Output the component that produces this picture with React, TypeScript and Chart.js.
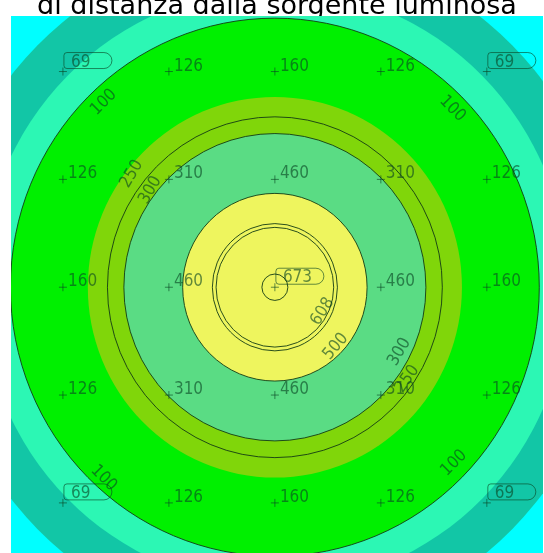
import React, { useEffect, useRef } from "react";
import { Chart, registerables } from "chart.js";

Chart.register(...registerables);

const TITLE = "di distanza dalla sorgente luminosa";

// calculation grid (m) and illuminance values (lux)
const gridX = [1, 3, 5, 7, 9];
const gridY = [1, 3, 5, 7, 9];
const gridValues = [
  [69, 126, 160, 126, 69],
  [126, 310, 460, 310, 126],
  [160, 460, 673, 460, 160],
  [126, 310, 460, 310, 126],
  [69, 126, 160, 126, 69],
];

// light source position (m)
const sourceX = 5;
const sourceY = 5;

// filled iso-bands: lower level (lux) and iso radius (m)
const bandLevels = [0, 60, 70, 100, 200, 300, 500];
const bandRadii = [Infinity, 6.34, 5.54, 4.99, 3.53, 2.85, 1.74];

// contour lines: level (lux) and radius (m)
const lineLevels = [100, 250, 300, 500, 600, 608];
const lineRadii = [4.99, 3.16, 2.85, 1.74, 1.18, 1.11];
const maxMarkerRadius = 0.245;

// contour label anchors (m) and rotation (deg)
const contourLabelText = ["100", "100", "100", "100", "250", "300", "300", "250", "608", "500"];
const contourLabelX = [1.77, 8.35, 1.77, 8.38, 2.3, 2.65, 7.35, 7.5, 5.9, 6.15];
const contourLabelY = [1.57, 1.69, 8.54, 8.26, 2.9, 3.2, 6.2, 6.7, 5.45, 6.1];
const contourLabelAngle = [-45, 45, 45, -45, -60, -60, -60, -55, -58, -50];

// palette (one per band)
const bandColors = ["#00FFFF", "#12C6A6", "#2CF7B4", "#00F000", "#80D60A", "#5ADC84", "#EEF55E"];
const LINE_COLOR = "rgba(20,60,20,0.9)";
const TEXT_COLOR = "rgba(10,70,35,0.62)";
const LABEL_FONT = '200 17px "DejaVu Sans Condensed", "DejaVu Sans", sans-serif';

const isoPlugin = {
  id: "isoPlugin",
  beforeDatasetsDraw(chart: any) {
    const { ctx, chartArea, scales } = chart;
    const xs = scales.x;
    const ys = scales.y;
    const cx = xs.getPixelForValue(sourceX);
    const cy = ys.getPixelForValue(sourceY);
    const rx = (r: number) => Math.abs(xs.getPixelForValue(sourceX + r) - cx);
    const ry = (r: number) => Math.abs(ys.getPixelForValue(sourceY + r) - cy);
    ctx.save();
    ctx.beginPath();
    ctx.rect(chartArea.left, chartArea.top, chartArea.right - chartArea.left, chartArea.bottom - chartArea.top);
    ctx.clip();
    bandLevels.forEach((lvl, i) => {
      const r = bandRadii[i];
      ctx.fillStyle = bandColors[i];
      ctx.beginPath();
      if (!isFinite(r)) {
        ctx.rect(chartArea.left, chartArea.top, chartArea.right - chartArea.left, chartArea.bottom - chartArea.top);
      } else {
        ctx.ellipse(cx, cy, rx(r), ry(r), 0, 0, Math.PI * 2);
      }
      ctx.fill();
    });
    ctx.strokeStyle = LINE_COLOR;
    ctx.lineWidth = 1;
    lineLevels.forEach((lvl, i) => {
      const r = lineRadii[i];
      ctx.beginPath();
      ctx.ellipse(cx, cy, rx(r), ry(r), 0, 0, Math.PI * 2);
      ctx.stroke();
    });
    ctx.beginPath();
    ctx.ellipse(cx, cy, rx(maxMarkerRadius), ry(maxMarkerRadius), 0, 0, Math.PI * 2);
    ctx.stroke();
    ctx.restore();
  },
  afterDatasetsDraw(chart: any) {
    const { ctx, scales } = chart;
    const xs = scales.x;
    const ys = scales.y;
    const all = gridValues.flat();
    const vmin = Math.min(...all);
    const vmax = Math.max(...all);
    ctx.save();
    ctx.font = LABEL_FONT;
    ctx.fillStyle = TEXT_COLOR;
    ctx.strokeStyle = TEXT_COLOR;
    ctx.lineWidth = 1;
    ctx.textBaseline = "alphabetic";
    ctx.textAlign = "left";
    gridY.forEach((gy, r) => {
      gridX.forEach((gx, c) => {
        const v = gridValues[r][c];
        const px = xs.getPixelForValue(gx);
        const py = ys.getPixelForValue(gy);
        const txt = String(v);
        if (v === vmin || v === vmax) {
          const w = ctx.measureText(txt).width;
          const bx = px + 1;
          const bh = 16;
          const by = py - 3 - bh;
          const bw = Math.max(w + 16, 48);
          ctx.beginPath();
          ctx.roundRect(bx, by, bw, bh, [3, 8, 8, 3]);
          ctx.stroke();
          ctx.fillText(txt, bx + 7, by + bh - 2);
        } else {
          ctx.fillText(txt, px + 5, py - 1);
        }
      });
    });
    contourLabelText.forEach((t, i) => {
      const px = xs.getPixelForValue(contourLabelX[i]);
      const py = ys.getPixelForValue(contourLabelY[i]);
      ctx.save();
      ctx.translate(px, py);
      ctx.rotate((contourLabelAngle[i] * Math.PI) / 180);
      ctx.textAlign = "center";
      ctx.textBaseline = "middle";
      ctx.fillText(t, 0, 0);
      ctx.restore();
    });
    ctx.restore();
  },
};

export default function App() {
  const ref = useRef<HTMLCanvasElement | null>(null);
  useEffect(() => {
    if (!ref.current) return;
    const points: { x: number; y: number }[] = [];
    gridY.forEach((gy) => gridX.forEach((gx) => points.push({ x: gx, y: gy })));
    const chart = new Chart(ref.current, {
      type: "scatter",
      data: {
        datasets: [
          {
            label: "punti di calcolo",
            data: points,
            pointStyle: "cross",
            pointRadius: 4,
            borderColor: TEXT_COLOR,
            borderWidth: 1,
            backgroundColor: TEXT_COLOR,
          },
        ],
      },
      options: {
        animation: false,
        responsive: false,
        maintainAspectRatio: false,
        layout: { autoPadding: false, padding: { left: 11, right: 1, top: 0, bottom: 0 } },
        scales: {
          x: { type: "linear", min: 0.02, max: 10.06, display: false },
          y: { type: "linear", min: -0.03, max: 10.3, reverse: true, display: false },
        },
        plugins: {
          legend: { display: false },
          tooltip: { enabled: false },
          title: {
            display: true,
            text: TITLE,
            color: "#000",
            font: { family: '"DejaVu Sans", sans-serif', size: 27, weight: "normal", lineHeight: 1.2 },
            padding: { top: 0, bottom: -7.4 },
          },
        },
      },
      plugins: [isoPlugin],
    });
    return () => chart.destroy();
  }, []);
  return (
    <div style={{ position: "fixed", left: 0, top: 0, width: 544, height: 553, overflow: "hidden" }}>
      <div style={{ position: "absolute", left: 0, top: -9, width: 544, height: 582 }}>
        <canvas ref={ref} width={544} height={582} style={{ width: 544, height: 582 }} />
      </div>
    </div>
  );
}
